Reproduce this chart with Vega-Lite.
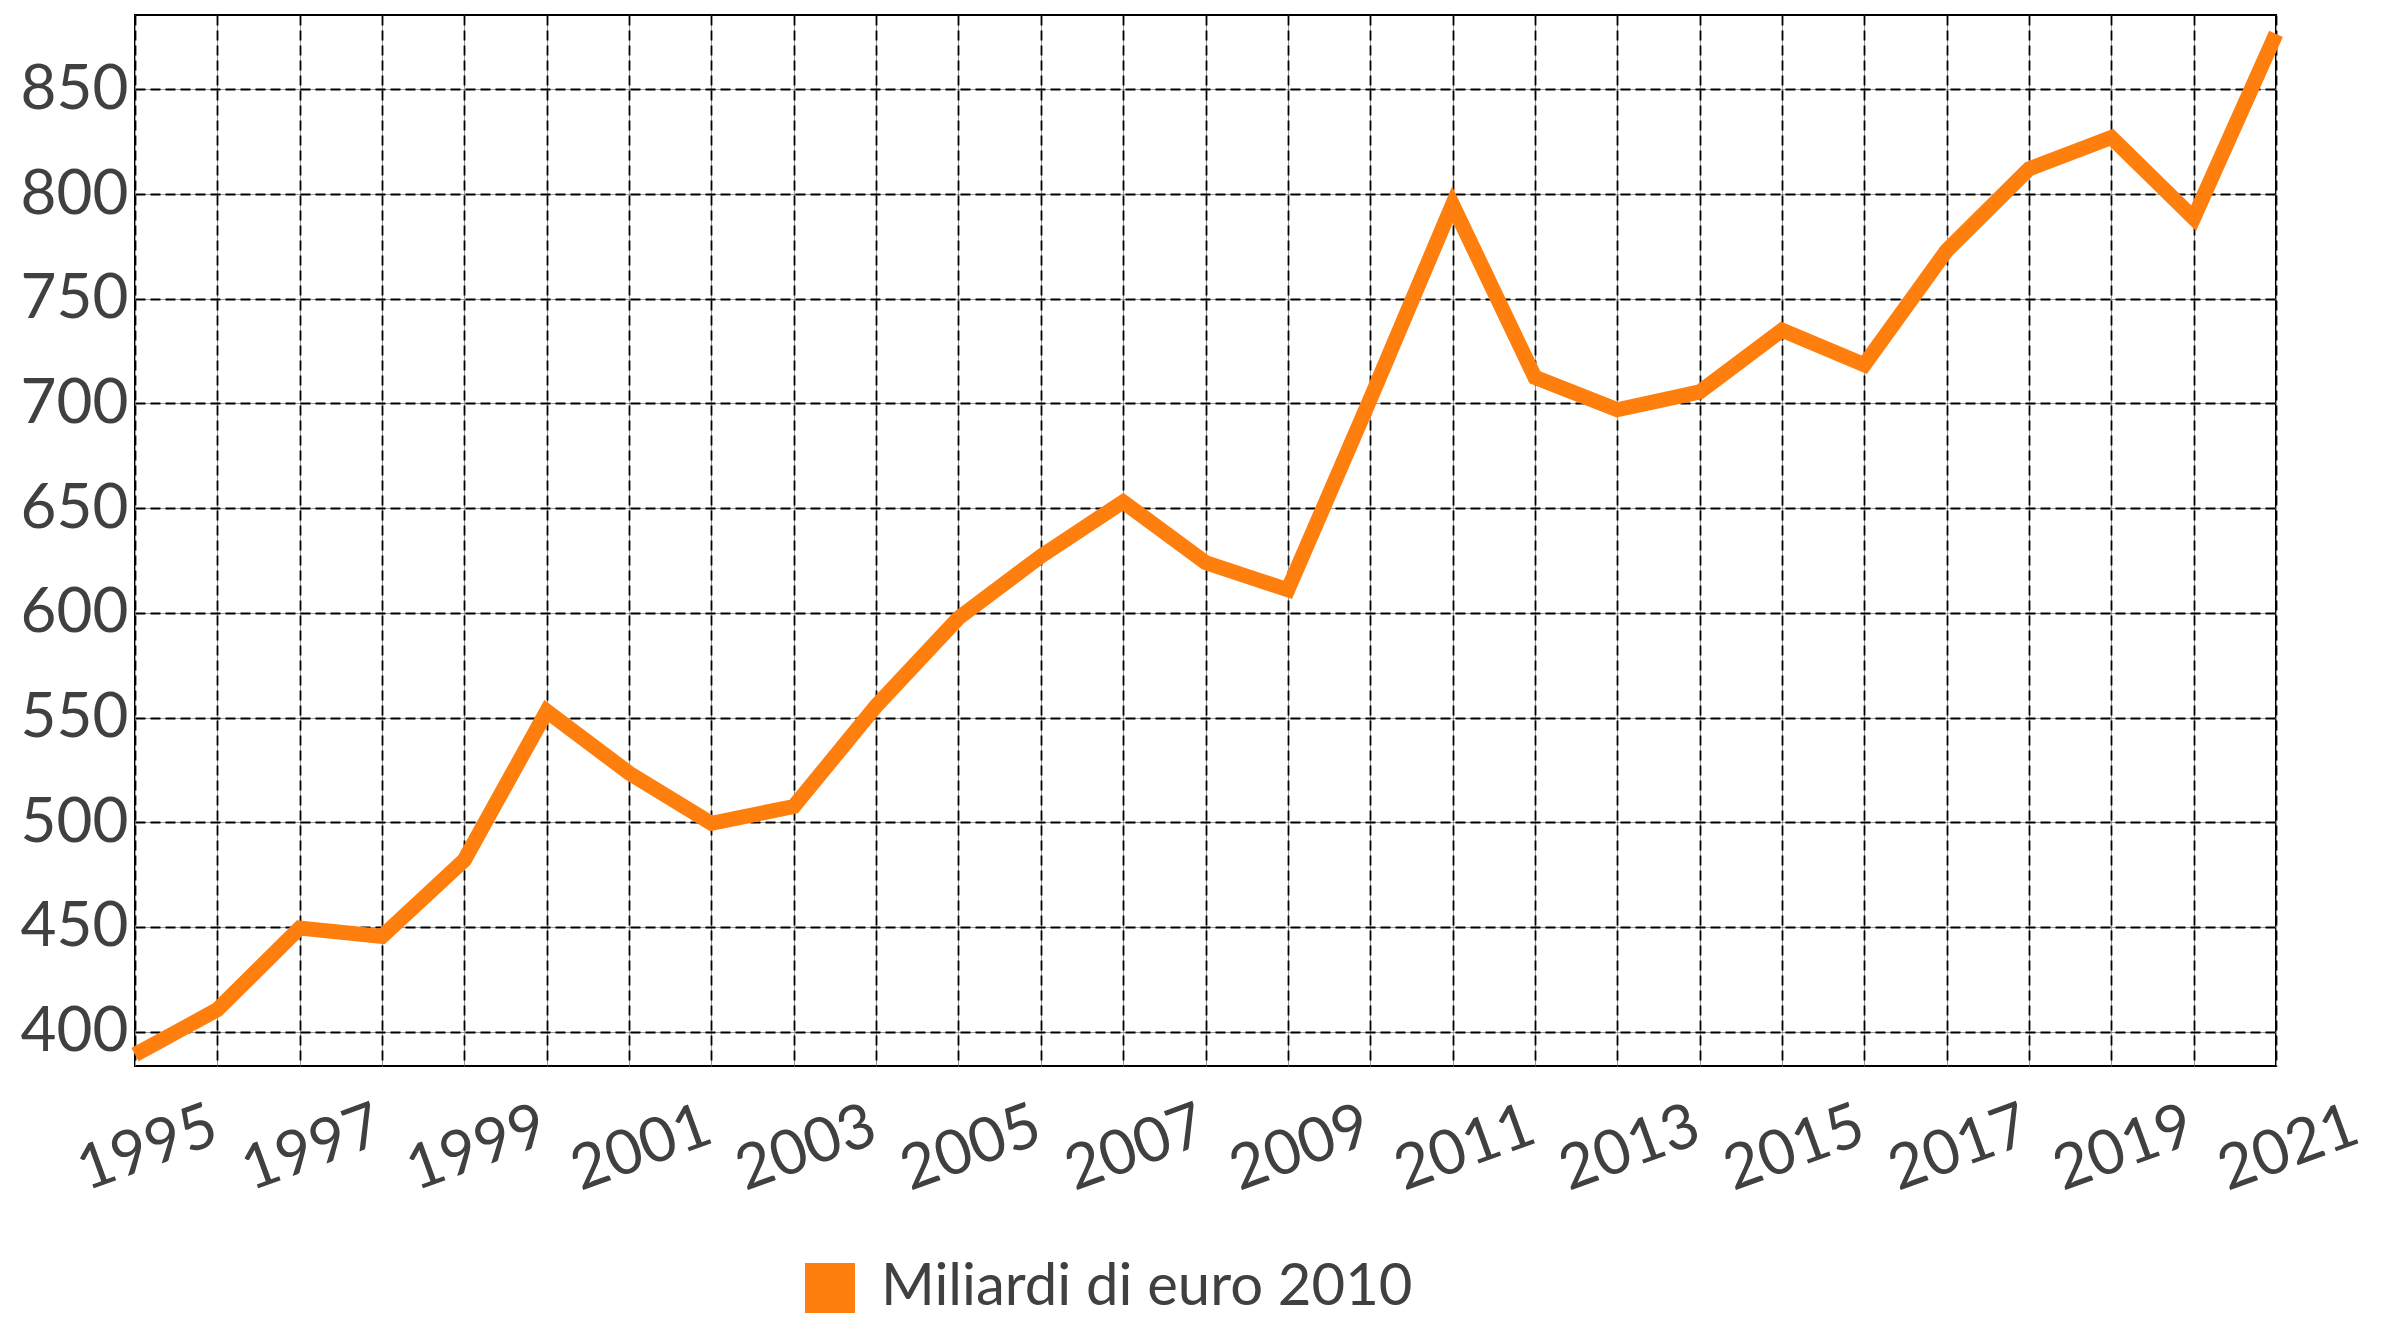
{
  "$schema": "https://vega.github.io/schema/vega-lite/v6.json",
  "autosize": {"type": "none"},
  "width": 2141,
  "height": 1051,
  "padding": {"left": 135, "top": 15, "right": 105, "bottom": 255},
  "background": "#ffffff",
  "config": {
    "view": {"stroke": "#000000", "strokeWidth": 2},
    "font": "Lato",
    "axis": {"domain": false, "ticks": false, "labelColor": "#404040", "labelFont": "Lato", "labelFontSize": 62}
  },
  "data": {
    "values": [
      {"anno": 1995, "valore": 389, "serie": "Miliardi di euro 2010"},
      {"anno": 1996, "valore": 410.5, "serie": "Miliardi di euro 2010"},
      {"anno": 1997, "valore": 449.5, "serie": "Miliardi di euro 2010"},
      {"anno": 1998, "valore": 445.5, "serie": "Miliardi di euro 2010"},
      {"anno": 1999, "valore": 482, "serie": "Miliardi di euro 2010"},
      {"anno": 2000, "valore": 553, "serie": "Miliardi di euro 2010"},
      {"anno": 2001, "valore": 523.5, "serie": "Miliardi di euro 2010"},
      {"anno": 2002, "valore": 499.5, "serie": "Miliardi di euro 2010"},
      {"anno": 2003, "valore": 507.5, "serie": "Miliardi di euro 2010"},
      {"anno": 2004, "valore": 555.5, "serie": "Miliardi di euro 2010"},
      {"anno": 2005, "valore": 597.5, "serie": "Miliardi di euro 2010"},
      {"anno": 2006, "valore": 627, "serie": "Miliardi di euro 2010"},
      {"anno": 2007, "valore": 653, "serie": "Miliardi di euro 2010"},
      {"anno": 2008, "valore": 624, "serie": "Miliardi di euro 2010"},
      {"anno": 2009, "valore": 611, "serie": "Miliardi di euro 2010"},
      {"anno": 2010, "valore": 702, "serie": "Miliardi di euro 2010"},
      {"anno": 2011, "valore": 795, "serie": "Miliardi di euro 2010"},
      {"anno": 2012, "valore": 712.5, "serie": "Miliardi di euro 2010"},
      {"anno": 2013, "valore": 697, "serie": "Miliardi di euro 2010"},
      {"anno": 2014, "valore": 705.5, "serie": "Miliardi di euro 2010"},
      {"anno": 2015, "valore": 735, "serie": "Miliardi di euro 2010"},
      {"anno": 2016, "valore": 718.5, "serie": "Miliardi di euro 2010"},
      {"anno": 2017, "valore": 773, "serie": "Miliardi di euro 2010"},
      {"anno": 2018, "valore": 812, "serie": "Miliardi di euro 2010"},
      {"anno": 2019, "valore": 827, "serie": "Miliardi di euro 2010"},
      {"anno": 2020, "valore": 788.5, "serie": "Miliardi di euro 2010"},
      {"anno": 2021, "valore": 876.5, "serie": "Miliardi di euro 2010"}
    ]
  },
  "resolve": {"axis": {"x": "independent", "y": "independent"}},
  "layer": [
    {
      "mark": {"type": "line", "strokeOpacity": 0},
      "encoding": {
        "x": {"field": "anno", "type": "quantitative", "scale": {"domain": [1995, 2021], "nice": false, "zero": false},
          "axis": {"orient": "top", "title": null, "labels": false, "grid": true, "gridColor": "#9a9a9a", "gridWidth": 1,
            "values": [1995,1996,1997,1998,1999,2000,2001,2002,2003,2004,2005,2006,2007,2008,2009,2010,2011,2012,2013,2014,2015,2016,2017,2018,2019,2020,2021]}},
        "y": {"field": "valore", "type": "quantitative", "scale": {"domain": [383.6, 885.5], "nice": false, "zero": false},
          "axis": {"orient": "right", "title": null, "labels": false, "grid": true, "gridColor": "#9a9a9a", "gridWidth": 1,
            "values": [400,450,500,550,600,650,700,750,800,850]}}
      }
    },
    {
      "mark": {"type": "line", "strokeWidth": 15, "strokeJoin": "miter", "strokeCap": "butt", "clip": false},
      "encoding": {
        "x": {"field": "anno", "type": "quantitative", "scale": {"domain": [1995, 2021], "nice": false, "zero": false},
          "axis": {"orient": "bottom", "title": null, "grid": true, "gridColor": "#000000", "gridWidth": 1.8, "gridDash": [10, 5],
            "values": [1995,1996,1997,1998,1999,2000,2001,2002,2003,2004,2005,2006,2007,2008,2009,2010,2011,2012,2013,2014,2015,2016,2017,2018,2019,2020,2021],
            "labelExpr": "datum.value % 2 == 1 ? format(datum.value, 'd') : ''",
            "labelAngle": -20, "labelAlign": "center", "labelBaseline": "middle", "labelPadding": 82, "labelOffset": 12, "labelFlush": false, "labelOverlap": false}},
        "y": {"field": "valore", "type": "quantitative", "scale": {"domain": [383.6, 885.5], "nice": false, "zero": false},
          "axis": {"orient": "left", "title": null, "grid": true, "gridColor": "#000000", "gridWidth": 1.8, "gridDash": [10, 5],
            "values": [400,450,500,550,600,650,700,750,800,850], "labelPadding": 7, "labelFlush": false}},
        "color": {"field": "serie", "type": "nominal", "scale": {"range": ["#ff7f0e"]},
          "legend": {"title": null, "orient": "none", "legendX": 666, "legendY": 1244,
            "symbolType": "square", "symbolSize": 2500, "symbolFillColor": "#ff7f0e", "symbolStrokeColor": "#ff7f0e", "symbolStrokeWidth": 0,
            "labelFont": "Lato", "labelFontSize": 58, "labelColor": "#404040", "labelOffset": 22, "labelLimit": 0}}
      }
    }
  ]
}
